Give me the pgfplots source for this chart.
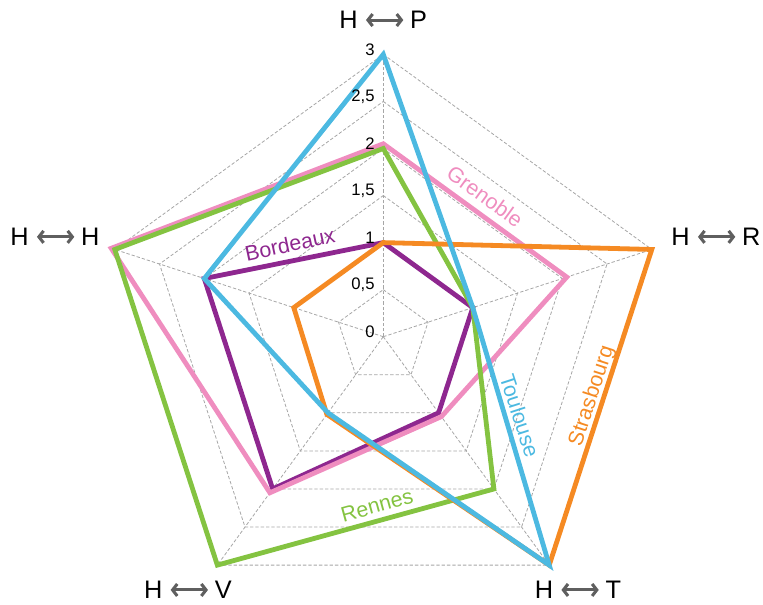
\documentclass[border=0pt]{standalone}
\usepackage{pgfplots}
\pgfplotsset{compat=1.18}
\usepackage{pgfplotstable}
\usetikzlibrary{arrows.meta}
\usepackage{fontspec}
\setmainfont{Liberation Sans}
\definecolor{cBor}{HTML}{8E278F}
\definecolor{cGre}{HTML}{EF8DBF}
\definecolor{cRen}{HTML}{84C341}
\definecolor{cStr}{HTML}{F58A23}
\definecolor{cTou}{HTML}{4CB9E1}
\definecolor{arrowgray}{HTML}{5F5F5F}
\definecolor{gridgray}{HTML}{A6A6A6}

% angle (deg) and value; axes: H<->P 90, H<->R 18, H<->T -54, H<->V -126, H<->H 162
\pgfplotstableread{
a r
90 1
18 1
-54 1
-126 2
162 2
}\bordeaux
\pgfplotstableread{
a r
90 2.05
18 2.05
-54 1.05
-126 2.05
162 3.04
}\grenoble
\pgfplotstableread{
a r
90 2
18 1
-54 2
-126 3
162 3
}\rennes
\pgfplotstableread{
a r
90 1
18 3
-54 3
-126 1.02
162 1
}\strasbourg
\pgfplotstableread{
a r
90 3
18 1
-54 3
-126 1
162 2
}\toulouse
\pgfplotstableread{
a r
90 1
18 1
-54 1
-126 1
162 1
}\angles

\newcommand{\dblarrow}{\tikz[baseline={(0,-6.6pt)}]\draw[arrowgray, line width=2.3pt, {Straight Barb[length=3.5pt,width=9pt]}-{Straight Barb[length=3.5pt,width=9pt]}] (0,0)--(28pt,0);}
\newcommand{\ax}[1]{\fontsize{19}{19}\selectfont H\hspace{5pt}\dblarrow\hspace{4pt}#1}

\begin{document}
\begin{tikzpicture}
\begin{axis}[
  x=70.575pt, y=70.575pt,
  xmin=-4.073, xmax=4.035, ymin=-2.841, ymax=3.578,
  hide axis, clip=false,
  gridln/.style={gridgray, line width=0.6pt, dash pattern=on 2.5pt off 1.5pt, mark=none},
  radar/.style={line width=3.6pt, line join=miter, mark=none},
]
% grid pentagons
\pgfplotsinvokeforeach{0.5,1,1.5,2,2.5,3}{
  \addplot[gridln] table[x expr={#1*\thisrow{r}*cos(\thisrow{a})}, y expr={#1*\thisrow{r}*sin(\thisrow{a})}] {\angles} -- cycle;
}
% spokes
\pgfplotsinvokeforeach{90,18,-54,-126,162}{
  \addplot[gridln] coordinates {(0,0) ({3*cos(#1)},{3*sin(#1)})};
}
% series
\addplot[radar, cBor] table[x expr={\thisrow{r}*cos(\thisrow{a})}, y expr={\thisrow{r}*sin(\thisrow{a})}] {\bordeaux} -- cycle;
\addplot[radar, cGre] table[x expr={\thisrow{r}*cos(\thisrow{a})}, y expr={\thisrow{r}*sin(\thisrow{a})}] {\grenoble} -- cycle;
\addplot[radar, cRen] table[x expr={\thisrow{r}*cos(\thisrow{a})}, y expr={\thisrow{r}*sin(\thisrow{a})}] {\rennes} -- cycle;
\addplot[radar, cStr] table[x expr={\thisrow{r}*cos(\thisrow{a})}, y expr={\thisrow{r}*sin(\thisrow{a})}] {\strasbourg} -- cycle;
\addplot[radar, cTou] table[x expr={\thisrow{r}*cos(\thisrow{a})}, y expr={\thisrow{r}*sin(\thisrow{a})}] {\toulouse} -- cycle;

% tick labels
\node[anchor=east, font=\fontsize{12.5}{12.5}\selectfont, inner sep=0pt] at (axis cs:-0.09,0.05) {0};
\node[anchor=east, font=\fontsize{12.5}{12.5}\selectfont, inner sep=0pt] at (axis cs:-0.09,0.55) {0,5};
\node[anchor=east, font=\fontsize{12.5}{12.5}\selectfont, inner sep=0pt] at (axis cs:-0.09,1.05) {1};
\node[anchor=east, font=\fontsize{12.5}{12.5}\selectfont, inner sep=0pt] at (axis cs:-0.09,1.55) {1,5};
\node[anchor=east, font=\fontsize{12.5}{12.5}\selectfont, inner sep=0pt] at (axis cs:-0.09,2.05) {2};
\node[anchor=east, font=\fontsize{12.5}{12.5}\selectfont, inner sep=0pt] at (axis cs:-0.09,2.55) {2,5};
\node[anchor=east, font=\fontsize{12.5}{12.5}\selectfont, inner sep=0pt] at (axis cs:-0.09,3.05) {3};
% axis labels
\node at (axis cs:0,3.364) {\ax{P}};
\node at (axis cs:3.535,1.06) {\ax{R}};
\node at (axis cs:-3.489,1.06) {\ax{H}};
\node at (axis cs:-2.076,-2.692) {\ax{V}};
\node at (axis cs:2.069,-2.692) {\ax{T}};
% series labels
\node[cBor, rotate=12, font=\fontsize{16}{16}\selectfont, inner sep=0pt] at (axis cs:-0.992,0.984) {Bordeaux};
\node[cGre, rotate=-36, font=\fontsize{16}{16}\selectfont, inner sep=0pt] at (axis cs:1.081,1.493) {Grenoble};
\node[cTou, rotate=-72, font=\fontsize{16}{16}\selectfont, inner sep=0pt] at (axis cs:1.450,-0.838) {Toulouse};
\node[cStr, rotate=72, font=\fontsize{16}{16}\selectfont, inner sep=0pt] at (axis cs:2.219,-0.630) {Strasbourg};
\node[cRen, rotate=15.4, font=\fontsize{16}{16}\selectfont, inner sep=0pt] at (axis cs:-0.067,-1.793) {Rennes};
\end{axis}
\pgfresetboundingbox
\path (current axis.south west) rectangle (current axis.north east);
\end{tikzpicture}
\end{document}
